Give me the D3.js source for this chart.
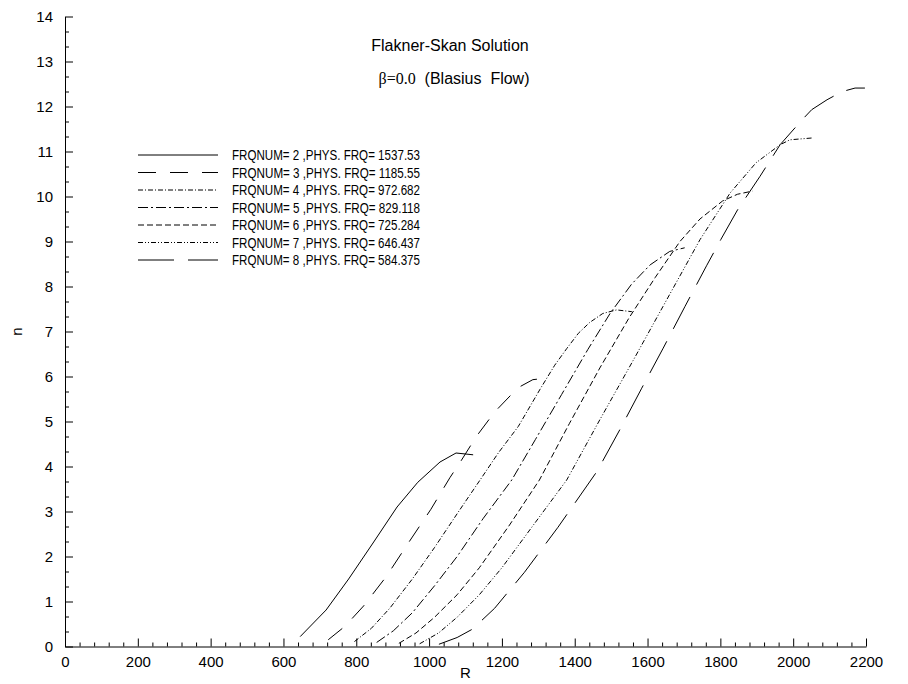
<!DOCTYPE html>
<html>
<head>
<meta charset="utf-8">
<script src="https://cdn.jsdelivr.net/npm/d3@7"></script>
<style>
  html, body { margin: 0; padding: 0; background: #fff; }
  svg text { font-family: "Liberation Sans", Arial, Helvetica, sans-serif; fill: #000; }
</style>
</head>
<body>
<svg id="chart" width="908" height="684"></svg>
<script>
// Falkner-Skan (beta = 0, Blasius) amplification curves: n versus R for each frequency
const frqNums  = [2, 3, 4, 5, 6, 7, 8];
const physFrqs = ["1537.53", "1185.55", "972.682", "829.118", "725.284", "646.437", "584.375"];

const r2 = [646, 717, 779, 846, 912, 969, 1030, 1074, 1121];
const n2 = [0.22, 0.81, 1.5, 2.3, 3.1, 3.65, 4.1, 4.3, 4.26];

const r3 = [723, 769, 820, 882, 943, 1005, 1057, 1085, 1130, 1181, 1244, 1285, 1331];
const n3 = [0.15, 0.45, 0.9, 1.55, 2.3, 3.05, 3.75, 4.09, 4.67, 5.22, 5.75, 5.93, 5.97];

const r4 = [795, 841, 892, 954, 1015, 1077, 1140, 1190, 1245, 1305, 1345, 1378, 1410, 1441, 1477, 1515, 1557];
const n4 = [0.11, 0.4, 0.85, 1.5, 2.2, 2.95, 3.7, 4.3, 4.89, 5.72, 6.25, 6.62, 6.96, 7.2, 7.4, 7.48, 7.44];

const r5 = [856, 902, 954, 1015, 1077, 1149, 1227, 1292, 1364, 1436, 1497, 1556, 1607, 1661, 1702];
const n5 = [0.09, 0.35, 0.75, 1.35, 2.0, 2.85, 3.7, 4.6, 5.6, 6.6, 7.4, 8.05, 8.48, 8.78, 8.86];

const r6 = [917, 964, 1015, 1077, 1138, 1221, 1303, 1385, 1469, 1549, 1621, 1689, 1744, 1806, 1847, 1888];
const n6 = [0.07, 0.3, 0.65, 1.15, 1.75, 2.7, 3.7, 4.95, 6.19, 7.3, 8.2, 9.0, 9.5, 9.9, 10.05, 10.12];

const r7 = [974, 1026, 1077, 1138, 1200, 1282, 1378, 1469, 1560, 1642, 1744, 1827, 1898, 1964, 1991, 2051];
const n7 = [0.06, 0.3, 0.65, 1.15, 1.75, 2.65, 3.7, 5.04, 6.35, 7.55, 9.04, 10.08, 10.75, 11.15, 11.26, 11.3];

const r8 = [1027, 1077, 1119, 1180, 1262, 1354, 1461, 1524, 1584, 1643, 1703, 1762, 1801, 1847, 1909, 1964, 2024, 2051, 2093, 2134, 2170, 2197];
const n8 = [0.05, 0.2, 0.385, 0.85, 1.65, 2.65, 3.89, 4.82, 5.74, 6.63, 7.56, 8.46, 9.04, 9.7, 10.45, 11.15, 11.7, 11.93, 12.15, 12.33, 12.41, 12.41];

const xTicks = [0, 200, 400, 600, 800, 1000, 1200, 1400, 1600, 1800, 2000, 2200];
const yTicks = [0, 1, 2, 3, 4, 5, 6, 7, 8, 9, 10, 11, 12, 13, 14];

const seriesR = [r2, r3, r4, r5, r6, r7, r8];
const seriesN = [n2, n3, n4, n5, n6, n7, n8];
// line pattern for each frequency
const dashes = [null, "18,14", "5,2,1,2", "10,3,2,3", "6,3", "5,2,1,2,1,2", "36,14"];

const svg = d3.select("#chart");
svg.append("rect").attr("width", 908).attr("height", 684).attr("fill", "#fff");

const x = d3.scaleLinear().domain([0, 2200]).range([65, 866]);
const y = d3.scaleLinear().domain([0, 14]).range([646.5, 16.5]);

// minor ticks
const xMinor = d3.range(0, 2201, 40).filter(v => v % 200 !== 0);
const yMinor = d3.range(0, 42).map(i => i / 3).filter((v, i) => i % 3 !== 0);

const xAxis = svg.append("g").attr("transform", `translate(0,${y(0)})`)
  .call(d3.axisBottom(x).tickValues(xTicks).tickSizeInner(-8).tickSizeOuter(0).tickPadding(10).tickFormat(d3.format("d")));
svg.append("g").attr("transform", `translate(0,${y(0)})`)
  .call(d3.axisBottom(x).tickValues(xMinor).tickSizeInner(-4).tickSizeOuter(0).tickFormat(""))
  .select(".domain").remove();

const yAxis = svg.append("g").attr("transform", `translate(${x(0)},0)`)
  .call(d3.axisLeft(y).tickValues(yTicks).tickSizeInner(-8).tickSizeOuter(0).tickPadding(12).tickFormat(d3.format("d")));
svg.append("g").attr("transform", `translate(${x(0)},0)`)
  .call(d3.axisLeft(y).tickValues(yMinor).tickSizeInner(-4).tickSizeOuter(0).tickFormat(""))
  .select(".domain").remove();

svg.selectAll(".domain, .tick line").attr("stroke", "#000").attr("stroke-width", 1);
xAxis.selectAll("text").attr("font-size", 15).attr("font-family", "Liberation Sans, Arial, sans-serif");
yAxis.selectAll("text").attr("font-size", 15).attr("font-family", "Liberation Sans, Arial, sans-serif");

// axis titles
svg.append("text").attr("x", x(1100)).attr("y", 678).attr("text-anchor", "middle")
  .attr("font-size", 15).text("R");
svg.append("text").attr("transform", `translate(22,${y(7)}) rotate(-90)`)
  .attr("text-anchor", "middle").attr("font-size", 15).text("n");

// curves
const line = d3.line().x(d => x(d[0])).y(d => y(d[1]));
seriesR.forEach((rs, i) => {
  const pts = rs.map((r, j) => [r, seriesN[i][j]]);
  svg.append("path").datum(pts)
    .attr("d", line)
    .attr("fill", "none")
    .attr("stroke", "#000")
    .attr("stroke-width", 1)
    .attr("stroke-dasharray", dashes[i]);
});

// title
svg.append("text").attr("x", 450).attr("y", 51).attr("text-anchor", "middle")
  .attr("font-size", 16).text("Flakner-Skan Solution");
const sub = svg.append("text").attr("x", 454).attr("y", 84).attr("text-anchor", "middle")
  .attr("font-size", 16).attr("xml:space", "preserve");
sub.append("tspan").attr("font-family", "Liberation Serif, Times New Roman, serif").text("\u03B2=0.0");
sub.append("tspan").text("  (Blasius  Flow)");

// legend
const legend = svg.append("g");
frqNums.forEach((f, i) => {
  const yy = 155 + i * 17.5;
  legend.append("line").attr("x1", 138).attr("x2", 218).attr("y1", yy).attr("y2", yy)
    .attr("stroke", "#000").attr("stroke-width", 1).attr("stroke-dasharray", dashes[i]);
  legend.append("text").attr("x", 232).attr("y", yy).attr("dy", "0.36em")
    .attr("font-size", 14).attr("xml:space", "preserve")
    .attr("textLength", 188).attr("lengthAdjust", "spacingAndGlyphs")
    .text(`FRQNUM= ${f} ,PHYS. FRQ= ${physFrqs[i]}`);
});
</script>
</body>
</html>
